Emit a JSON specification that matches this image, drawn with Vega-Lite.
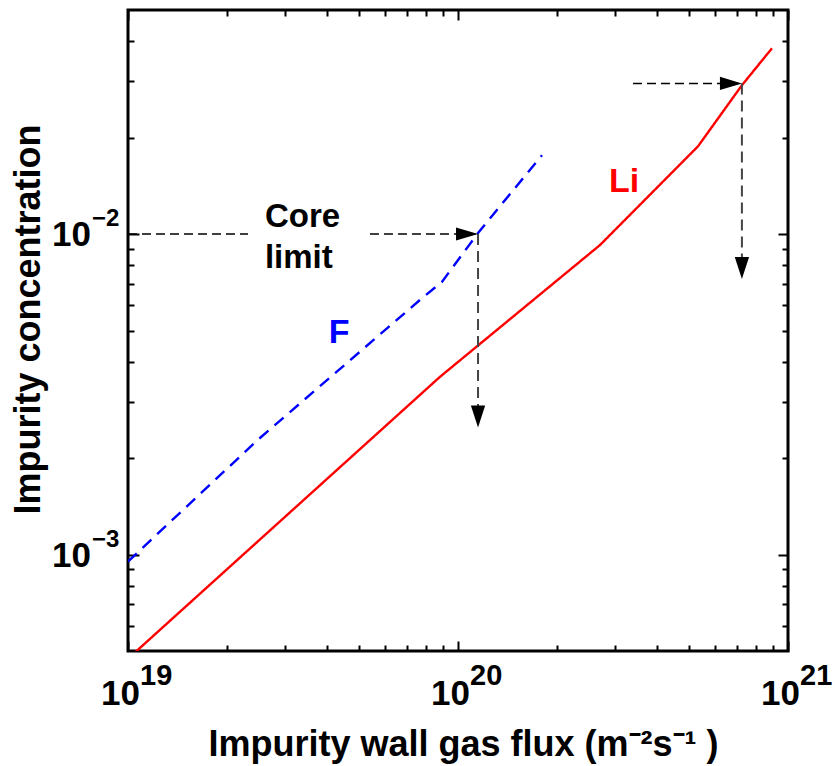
{
  "$schema": "https://vega.github.io/schema/vega-lite/v6.json",
  "width": 660,
  "height": 641,
  "autosize": {"type": "none"},
  "padding": {"left": 128, "top": 10, "right": 47, "bottom": 115},
  "background": "white",
  "config": {"view": {"stroke": "black", "strokeWidth": 3}, "font": "Liberation Sans"},
  "datasets": {
    "curves": [
      {"flux": 1e19, "conc": 0.000473, "species": "Li"},
      {"flux": 8.82e19, "conc": 0.003585, "species": "Li"},
      {"flux": 2.694e20, "conc": 0.00924, "species": "Li"},
      {"flux": 5.34e20, "conc": 0.01879, "species": "Li"},
      {"flux": 7.25e20, "conc": 0.02912, "species": "Li"},
      {"flux": 8.94e20, "conc": 0.03797, "species": "Li"},
      {"flux": 1e19, "conc": 0.000951, "species": "F"},
      {"flux": 2.477e19, "conc": 0.002282, "species": "F"},
      {"flux": 7.67e19, "conc": 0.00623, "species": "F"},
      {"flux": 8.94e19, "conc": 0.00709, "species": "F"},
      {"flux": 1.15e20, "conc": 0.01007, "species": "F"},
      {"flux": 1.797e20, "conc": 0.01762, "species": "F"}
    ],
    "segments": [
      {"x": 1e19, "x2": 2.31e19, "y": 0.01, "y2": 0.01, "kind": "h"},
      {"x": 5.41e19, "x2": 1.13e20, "y": 0.01, "y2": 0.01, "kind": "h"},
      {"x": 3.39e20, "x2": 7.1e20, "y": 0.0295, "y2": 0.0295, "kind": "h"},
      {"x": 1.15e20, "x2": 1.15e20, "y": 0.01, "y2": 0.0027, "kind": "v"},
      {"x": 7.25e20, "x2": 7.25e20, "y": 0.0295, "y2": 0.0078, "kind": "v"}
    ],
    "heads": [
      {"x": 1.15e20, "y": 0.01, "dir": "right"},
      {"x": 1.15e20, "y": 0.00249, "dir": "down"},
      {"x": 7.25e20, "y": 0.0295, "dir": "right"},
      {"x": 7.25e20, "y": 0.00724, "dir": "down"}
    ],
    "labels": [
      {"x": 2.6e19, "y": 0.0105, "text": "Core\nlimit", "who": "core"},
      {"x": 4.06e19, "y": 0.004575, "text": "F", "who": "F"},
      {"x": 2.87e20, "y": 0.01351, "text": "Li", "who": "Li"}
    ],
    "xticks": [
      {"v": 1e19, "e": "19"},
      {"v": 1e20, "e": "20"},
      {"v": 1e21, "e": "21"}
    ],
    "yticks": [
      {"v": 0.001, "e": "−3"},
      {"v": 0.01, "e": "−2"}
    ]
  },
  "layer": [
    {
      "data": {"name": "curves"},
      "mark": {"type": "line", "clip": true, "strokeWidth": 2.4},
      "encoding": {
        "x": {
          "field": "flux", "type": "quantitative",
          "scale": {"type": "log", "domain": [1e19, 1e21], "nice": false},
          "axis": {
            "orient": "bottom",
            "values": [1e19, 2e19, 3e19, 4e19, 5e19, 6e19, 7e19, 8e19, 9e19, 1e20, 2e20, 3e20, 4e20, 5e20, 6e20, 7e20, 8e20, 9e20, 1e21],
            "labels": false, "domain": false, "grid": false,
            "tickColor": "black", "tickWidth": 2,
            "tickSize": {"condition": {"test": "abs(log(datum.value)/LN10 - round(log(datum.value)/LN10)) < 0.000001", "value": -10}, "value": -6},
            "title": "Impurity wall gas flux (m⁻²s⁻¹ )",
            "titleFont": "Liberation Sans", "titleFontSize": 36, "titleFontWeight": "bold", "titleColor": "black",
            "titleX": 335, "titleY": 104, "titleAlign": "center", "titleBaseline": "alphabetic", "titleAngle": 0
          }
        },
        "y": {
          "field": "conc", "type": "quantitative",
          "scale": {"type": "log", "domain": [0.0005, 0.05], "nice": false},
          "axis": {
            "orient": "left",
            "values": [0.0006, 0.0007, 0.0008, 0.0009, 0.001, 0.002, 0.003, 0.004, 0.005, 0.006, 0.007, 0.008, 0.009, 0.01, 0.02, 0.03, 0.04],
            "labels": false, "domain": false, "grid": false,
            "tickColor": "black", "tickWidth": 2,
            "tickSize": {"condition": {"test": "abs(log(datum.value)/LN10 - round(log(datum.value)/LN10)) < 0.000001", "value": -11}, "value": -6},
            "title": "Impurity concentration",
            "titleFont": "Liberation Sans", "titleFontSize": 36, "titleFontWeight": "bold", "titleColor": "black",
            "titleX": -89, "titleY": 309, "titleAlign": "center", "titleBaseline": "alphabetic", "titleAngle": 270
          }
        },
        "color": {
          "field": "species", "type": "nominal",
          "scale": {"domain": ["Li", "F"], "range": ["#ff0000", "#0000ff"]},
          "legend": null
        },
        "strokeDash": {
          "field": "species", "type": "nominal",
          "scale": {"domain": ["Li", "F"], "range": [[1, 0], [12, 8]]},
          "legend": null
        }
      }
    },
    {
      "data": {"name": "segments"},
      "transform": [{"filter": "datum.kind === 'h'"}],
      "mark": {"type": "rule", "color": "black", "strokeWidth": 1.6, "strokeDash": [9, 5]},
      "encoding": {
        "x": {
          "field": "x", "type": "quantitative",
          "scale": {"type": "log", "domain": [1e19, 1e21], "nice": false},
          "axis": {
            "orient": "top",
            "values": [1e19, 2e19, 3e19, 4e19, 5e19, 6e19, 7e19, 8e19, 9e19, 1e20, 2e20, 3e20, 4e20, 5e20, 6e20, 7e20, 8e20, 9e20, 1e21],
            "labels": false, "domain": false, "grid": false, "title": null,
            "tickColor": "black", "tickWidth": 2,
            "tickSize": {"condition": {"test": "abs(log(datum.value)/LN10 - round(log(datum.value)/LN10)) < 0.000001", "value": -10}, "value": -6}
          }
        },
        "x2": {"field": "x2"},
        "y": {
          "field": "y", "type": "quantitative",
          "scale": {"type": "log", "domain": [0.0005, 0.05], "nice": false},
          "axis": {
            "orient": "right",
            "values": [0.0006, 0.0007, 0.0008, 0.0009, 0.001, 0.002, 0.003, 0.004, 0.005, 0.006, 0.007, 0.008, 0.009, 0.01, 0.02, 0.03, 0.04],
            "labels": false, "domain": false, "grid": false, "title": null,
            "tickColor": "black", "tickWidth": 2,
            "tickSize": {"condition": {"test": "abs(log(datum.value)/LN10 - round(log(datum.value)/LN10)) < 0.000001", "value": -10}, "value": -6}
          }
        },
        "y2": {"field": "y2"}
      }
    },
    {
      "data": {"name": "segments"},
      "transform": [{"filter": "datum.kind === 'v'"}],
      "mark": {"type": "rule", "color": "#444444", "strokeWidth": 2, "strokeDash": [11, 6]},
      "encoding": {
        "x": {"field": "x", "type": "quantitative", "axis": null},
        "x2": {"field": "x2"},
        "y": {"field": "y", "type": "quantitative", "axis": null},
        "y2": {"field": "y2"}
      }
    },
    {
      "data": {"name": "heads"},
      "mark": {"type": "point", "filled": true, "opacity": 1, "color": "black", "size": 484, "strokeWidth": 0},
      "encoding": {
        "x": {"field": "x", "type": "quantitative", "axis": null},
        "y": {"field": "y", "type": "quantitative", "axis": null},
        "shape": {
          "field": "dir", "type": "nominal",
          "scale": {"domain": ["right", "down"], "range": ["M-2,-0.6L0,0L-2,0.6Z", "M-0.65,-2L0,0L0.65,-2Z"]},
          "legend": null
        }
      }
    },
    {
      "data": {"name": "labels"},
      "transform": [{"filter": "datum.who === 'core'"}],
      "mark": {"type": "text", "align": "left", "baseline": "alphabetic", "font": "Liberation Sans", "fontWeight": "bold", "fontSize": 33, "lineBreak": "\n", "lineHeight": 41, "color": "black"},
      "encoding": {
        "x": {"field": "x", "type": "quantitative", "axis": null},
        "y": {"field": "y", "type": "quantitative", "axis": null},
        "text": {"field": "text"}
      }
    },
    {
      "data": {"name": "labels"},
      "transform": [{"filter": "datum.who === 'F'"}],
      "mark": {"type": "text", "align": "left", "baseline": "alphabetic", "font": "Liberation Sans", "fontWeight": "bold", "fontSize": 34, "color": "#0000ff"},
      "encoding": {
        "x": {"field": "x", "type": "quantitative", "axis": null},
        "y": {"field": "y", "type": "quantitative", "axis": null},
        "text": {"field": "text"}
      }
    },
    {
      "data": {"name": "labels"},
      "transform": [{"filter": "datum.who === 'Li'"}],
      "mark": {"type": "text", "align": "left", "baseline": "alphabetic", "font": "Liberation Sans", "fontWeight": "bold", "fontSize": 34, "color": "#ff0000"},
      "encoding": {
        "x": {"field": "x", "type": "quantitative", "axis": null},
        "y": {"field": "y", "type": "quantitative", "axis": null},
        "text": {"field": "text"}
      }
    },
    {
      "data": {"name": "xticks"},
      "mark": {"type": "text", "align": "right", "baseline": "alphabetic", "font": "Liberation Sans", "fontWeight": "bold", "fontSize": 35, "dx": 12, "dy": 54, "color": "black"},
      "encoding": {
        "x": {"field": "v", "type": "quantitative", "axis": null},
        "y": {"datum": 0.0005, "type": "quantitative", "axis": null},
        "text": {"value": "10"}
      }
    },
    {
      "data": {"name": "xticks"},
      "mark": {"type": "text", "align": "left", "baseline": "alphabetic", "font": "Liberation Sans", "fontWeight": "bold", "fontSize": 29, "dx": 12, "dy": 34, "color": "black"},
      "encoding": {
        "x": {"field": "v", "type": "quantitative", "axis": null},
        "y": {"datum": 0.0005, "type": "quantitative", "axis": null},
        "text": {"field": "e"}
      }
    },
    {
      "data": {"name": "yticks"},
      "mark": {"type": "text", "align": "right", "baseline": "alphabetic", "font": "Liberation Sans", "fontWeight": "bold", "fontSize": 35, "dx": -37, "dy": 12, "color": "black"},
      "encoding": {
        "x": {"datum": 1e19, "type": "quantitative", "axis": null},
        "y": {"field": "v", "type": "quantitative", "axis": null},
        "text": {"value": "10"}
      }
    },
    {
      "data": {"name": "yticks"},
      "mark": {"type": "text", "align": "left", "baseline": "alphabetic", "font": "Liberation Sans", "fontWeight": "bold", "fontSize": 24, "dx": -36, "dy": -8, "color": "black"},
      "encoding": {
        "x": {"datum": 1e19, "type": "quantitative", "axis": null},
        "y": {"field": "v", "type": "quantitative", "axis": null},
        "text": {"field": "e"}
      }
    }
  ],
  "resolve": {"axis": {"x": "independent", "y": "independent"}}
}
